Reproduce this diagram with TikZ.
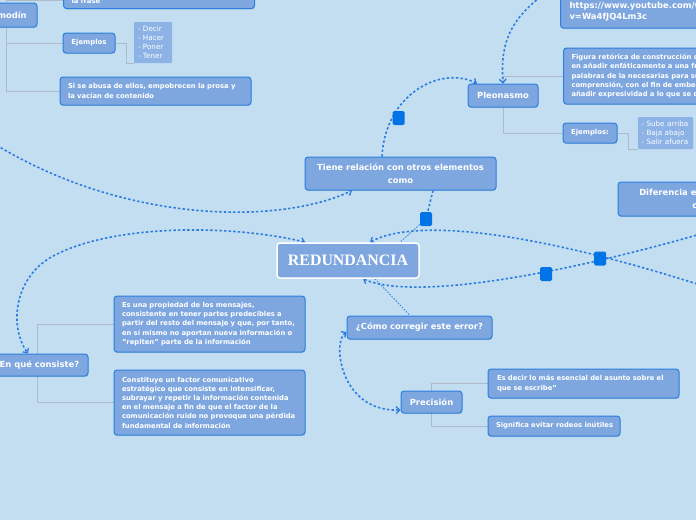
\documentclass[tikz,border=0pt]{standalone}
\usepackage{fontspec}
\setmainfont{DejaVu Sans}
\newfontfamily\serifb{Liberation Serif}
\usetikzlibrary{arrows.meta,shadows}
\pgfdeclarelayer{bg}
\pgfsetlayers{bg,main}
\definecolor{bgc}{HTML}{C3DEF0}
\definecolor{boxf}{HTML}{7FA7DF}
\definecolor{boxd}{HTML}{2A7FE0}
\definecolor{listf}{HTML}{8CB2E6}
\definecolor{dotc}{HTML}{2B7DE0}
\definecolor{sqc}{HTML}{0073E6}
\definecolor{treec}{HTML}{AEBAC5}
\tikzset{
 box/.style={draw=boxd, line width=1pt, fill=boxf, rounded corners=3pt, text=white, inner sep=0pt,
   drop shadow={opacity=0.25,shadow xshift=0.4pt,shadow yshift=-1.2pt}},
 ttl/.style={box, align=center, font=\bfseries\fontsize{8.4}{10}\selectfont},
 bod/.style={box, align=left, font=\bfseries\fontsize{6.8}{9.2}\selectfont},
 lst/.style={fill=listf, text=white, rounded corners=1pt, align=left, inner sep=0pt,
   font=\fontsize{7.2}{9.2}\selectfont},
 tree/.style={draw=treec, line width=1pt},
 link/.style={draw=dotc, line width=1.6pt, dash pattern=on 2.4pt off 2.2pt},
 thinlink/.style={draw=dotc, line width=0.8pt, dash pattern=on 1.5pt off 1.5pt},
 tip/.style={-{Straight Barb[length=3.5pt,width=7pt,line width=1.3pt]}},
 rtip/.style={{Straight Barb[length=3.5pt,width=7pt,line width=1.3pt]}-},
 tiptwo/.style={{Straight Barb[length=3.5pt,width=7pt,line width=1.3pt]}-{Straight Barb[length=3.5pt,width=7pt,line width=1.3pt]}},
 handle/.style={fill=sqc, rounded corners=1.5pt, minimum width=12pt, minimum height=14pt, inner sep=0pt},
}
\begin{document}
\begin{tikzpicture}[x=1pt,y=-1pt]
\useasboundingbox (0,0) rectangle (696,520);
% nodes
\node[ttl, minimum width=62, minimum height=24] (comodin) at (6,15) {Comodín};
\node[bod, anchor=south west, minimum height=16, text width=175, inner xsep=8] (frase) at (63,9) {la frase};
\node[ttl, font=\bfseries\fontsize{6.9}{9}\selectfont, minimum width=52, minimum height=20] (ej1) at (89,43) {Ejemplos};
\node[lst, minimum height=41, text width=30, inner xsep=4] (list1) at (153,42.5) {- Decir\\- Hacer\\- Poner\\- Tener};
\node[bod, minimum height=28, text width=175, inner xsep=8] (abusa) at (155.5,91) {Si se abusa de ellos, empobrecen la prosa y\\la vacían de contenido};
\node[ttl, align=left, anchor=west, minimum height=33, text width=184, inner xsep=9, font=\bfseries\fontsize{8.4}{11}\selectfont] (yt) at (560,11.5) {https://www.youtube.com/watch?\\v=Wa4fJQ4Lm3c};
\node[ttl, minimum width=70, minimum height=23] (pleo) at (503,95.5) {Pleonasmo};
\node[bod, anchor=west, minimum height=56, text width=190, inner xsep=8] (fig) at (563,76) {Figura retórica de construcción que consiste\\en añadir enfáticamente a una frase más\\palabras de la necesarias para su\\comprensión, con el fin de embellecer o\\añadir expresividad a lo que se dice};
\node[ttl, font=\bfseries\fontsize{6.9}{9}\selectfont, minimum width=54, minimum height=20] (ej2) at (590,133) {Ejemplos:};
\node[lst, minimum height=32, text width=48, inner xsep=3.5] (list2) at (665.5,133) {- Sube arriba\\- Baja abajo\\- Salir afuera};
\node[ttl, font=\bfseries\fontsize{8.4}{12.5}\selectfont, minimum width=191, minimum height=33] (tiene) at (400.5,173.5) {Tiene relación con otros elementos\\como};
\node[ttl, font=\bfseries\fontsize{8.4}{12.5}\selectfont, minimum width=174, minimum height=34] (dif) at (705,199) {Diferencia entre pleonasmo\\como};
\node[box, draw=white, line width=1.5pt, minimum width=142, minimum height=35, font=\serifb\bfseries\fontsize{15.9}{18}\selectfont] (redund) at (348,260.5) {REDUNDANCIA};
\node[ttl, minimum width=102, minimum height=22] (consiste) at (37,365) {¿En qué consiste?};
\node[bod, minimum height=56, text width=175, inner xsep=8] (prop) at (209.5,324) {Es una propiedad de los mensajes,\\consistente en tener partes predecibles a\\partir del resto del mensaje y que, por tanto,\\en sí mismo no aportan nueva información o\\"repiten" parte de la información};
\node[bod, minimum height=65, text width=175, inner xsep=8] (const) at (209.5,402.5) {Constituye un factor comunicativo\\estratégico que consiste en intensificar,\\subrayar y repetir la información contenida\\en el mensaje a fin de que el factor de la\\comunicación ruido no provoque una pérdida\\fundamental de información};
\node[ttl, minimum width=145, minimum height=23] (como) at (419.5,327.5) {¿Cómo corregir este error?};
\node[ttl, minimum width=61, minimum height=22] (prec) at (431.5,402) {Precisión};
\node[bod, minimum height=29, text width=173, inner xsep=9] (esdecir) at (583.5,383.5) {Es decir lo más esencial del asunto sobre el\\que se escribe"};
\node[bod, minimum height=20, text width=116, inner xsep=8] (signif) at (554,426) {\mbox{Significa evitar rodeos inútiles}};
% handles
\node[handle] (h1) at (398.5,118) {};
\node[handle] (h2) at (426,219) {};
\node[handle] (h3) at (600,258.5) {};
\node[handle] (h4) at (546,274) {};
\coordinate (offA) at (-15,138);
\coordinate (offC) at (760,305);
\coordinate (offD) at (780,210);
\coordinate (offF) at (575,-25);
\begin{pgfonlayer}{bg}
\fill[bgc] (0,0) rectangle (696,520);
% tree connectors
\draw[tree] (comodin.center) |- (abusa.west);
\draw[tree] (ej1.west) -| (comodin.center);
\draw[tree] (frase.west) -| (comodin.center);
\draw[tree] (ej1.east) -- ++(11,0) |- (list1.south west);
\draw[tree] (fig.west) -| (pleo.center);
\draw[tree] (ej2.west) -| (pleo.center);
\draw[tree] (ej2.east) -- ++(11,0) |- (list2.south west);
\draw[tree] (prop.west) -| (consiste.center);
\draw[tree] (const.west) -| (consiste.center);
\draw[tree] (esdecir.west) -| (prec.center);
\draw[tree] (signif.west) -| (prec.center);
% dotted links
\draw[link, tip] (offA) .. controls (120,225) and (280,225) .. ([xshift=-48.5]tiene.south);
\draw[link, tiptwo] ([xshift=29]redund.north west) .. controls (240,226) and (120,222) .. (55,255) .. controls (15,275) and (8,325) .. ([xshift=-9]consiste.north);
\draw[link, rtip] ([xshift=22]redund.north) .. controls (420,215) and (560,235) .. (offC);
\draw[link, rtip] ([xshift=15]redund.south) .. controls (410,300) and (560,280) .. (offD);
\draw[link, tip] ([xshift=-18.5]tiene.north) .. controls (385,95) and (440,65) .. ([xshift=-26]pleo.north);
\draw[link, tip] (offF) .. controls (510,10) and (500,40) .. (pleo.north);
\draw[link] ([xshift=32.5]tiene.south) -- (h2);
\draw[thinlink] (h2) -- ([xshift=52]redund.north);
\draw[thinlink] ([xshift=27]redund.south) -- ([xshift=-9.5]como.north);
\draw[link, tiptwo] ([yshift=-4.5]como.west) .. controls (332,342) and (340,412) .. ([yshift=-8]prec.west);
\end{pgfonlayer}
\end{tikzpicture}
\end{document}
